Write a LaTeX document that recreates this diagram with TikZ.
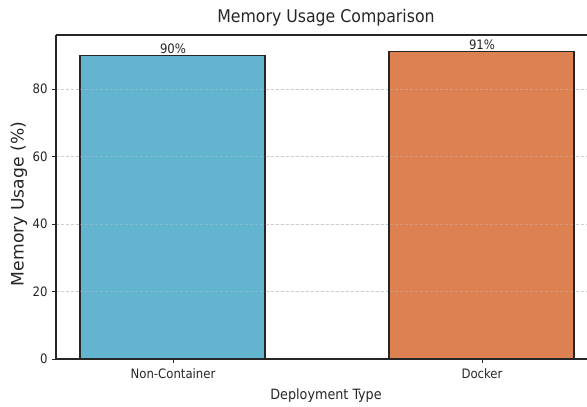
\documentclass[tikz,border=0pt]{standalone}
\usepackage{fontspec}
\setmainfont{DejaVu Sans Condensed}
\newfontfamily\widefont{DejaVu Sans}
\usetikzlibrary{positioning}
\definecolor{ncblue}{RGB}{99,180,207}
\definecolor{dkorange}{RGB}{221,128,82}
\definecolor{gridgray}{RGB}{205,205,205}

\begin{document}
\begin{tikzpicture}[x=1pt, y=1pt,
  ticklab/.style={font=\fontsize{13}{15}\selectfont, text=black!85},
  bar/.style={draw=black!85, line width=1.1pt},
  gridline/.style={gridgray, dash pattern=on 3pt off 2pt, line width=0.6pt}]
\useasboundingbox (0,0) rectangle (587,407);

% grid
\foreach \v in {20,40,60,80}
  \draw[gridline] (56,48+3.375*\v) -- (587,48+3.375*\v);

% bars
\draw[bar, fill=ncblue] (80,48) rectangle (265,48+3.375*90);
\draw[bar, fill=dkorange] (389,48) rectangle (574,48+3.375*91);
\foreach \v in {20,40,60,80}
  \draw[gridline, opacity=0.3] (80,48+3.375*\v) -- (574,48+3.375*\v);

\node[ticklab, anchor=south] (valnc) at (173,48+3.375*90-1.5) {90\%};
\node[ticklab, anchor=south] (valdk) at (482,48+3.375*91-1.5) {91\%};

% axes
\draw[black!85, line width=1.1pt] (56,372) -- (56,48) -- (587,48);
\draw[black!85, line width=1.1pt] (56,372) -- (587,372);

% y ticks
\foreach \v in {0,20,40,60,80} {
  \draw[black!85, line width=0.9pt] (52,48+3.375*\v) -- (56,48+3.375*\v);
  \node[ticklab, anchor=east] (ytick\v) at (51,48+3.375*\v) {\v};
}

% x ticks
\draw[black!85, line width=0.9pt] (173,48) -- (173,44);
\draw[black!85, line width=0.9pt] (482,48) -- (482,44);
\node[ticklab, anchor=north] (xnc) at (173,42) {Non-Container};
\node[ticklab, anchor=north] (xdk) at (482,42) {Docker};

% labels
\node[font=\fontsize{14.2}{16}\selectfont, text=black!85] (xlab) at (326,11) {Deployment Type};
\node[font=\widefont\fontsize{17.2}{19}\selectfont, text=black!85, rotate=90] (ylab) at (19,203) {Memory Usage (\%)};
\node[font=\fontsize{17.5}{20}\selectfont, text=black!85] (title) at (326,389) {Memory Usage Comparison};
\end{tikzpicture}
\end{document}
